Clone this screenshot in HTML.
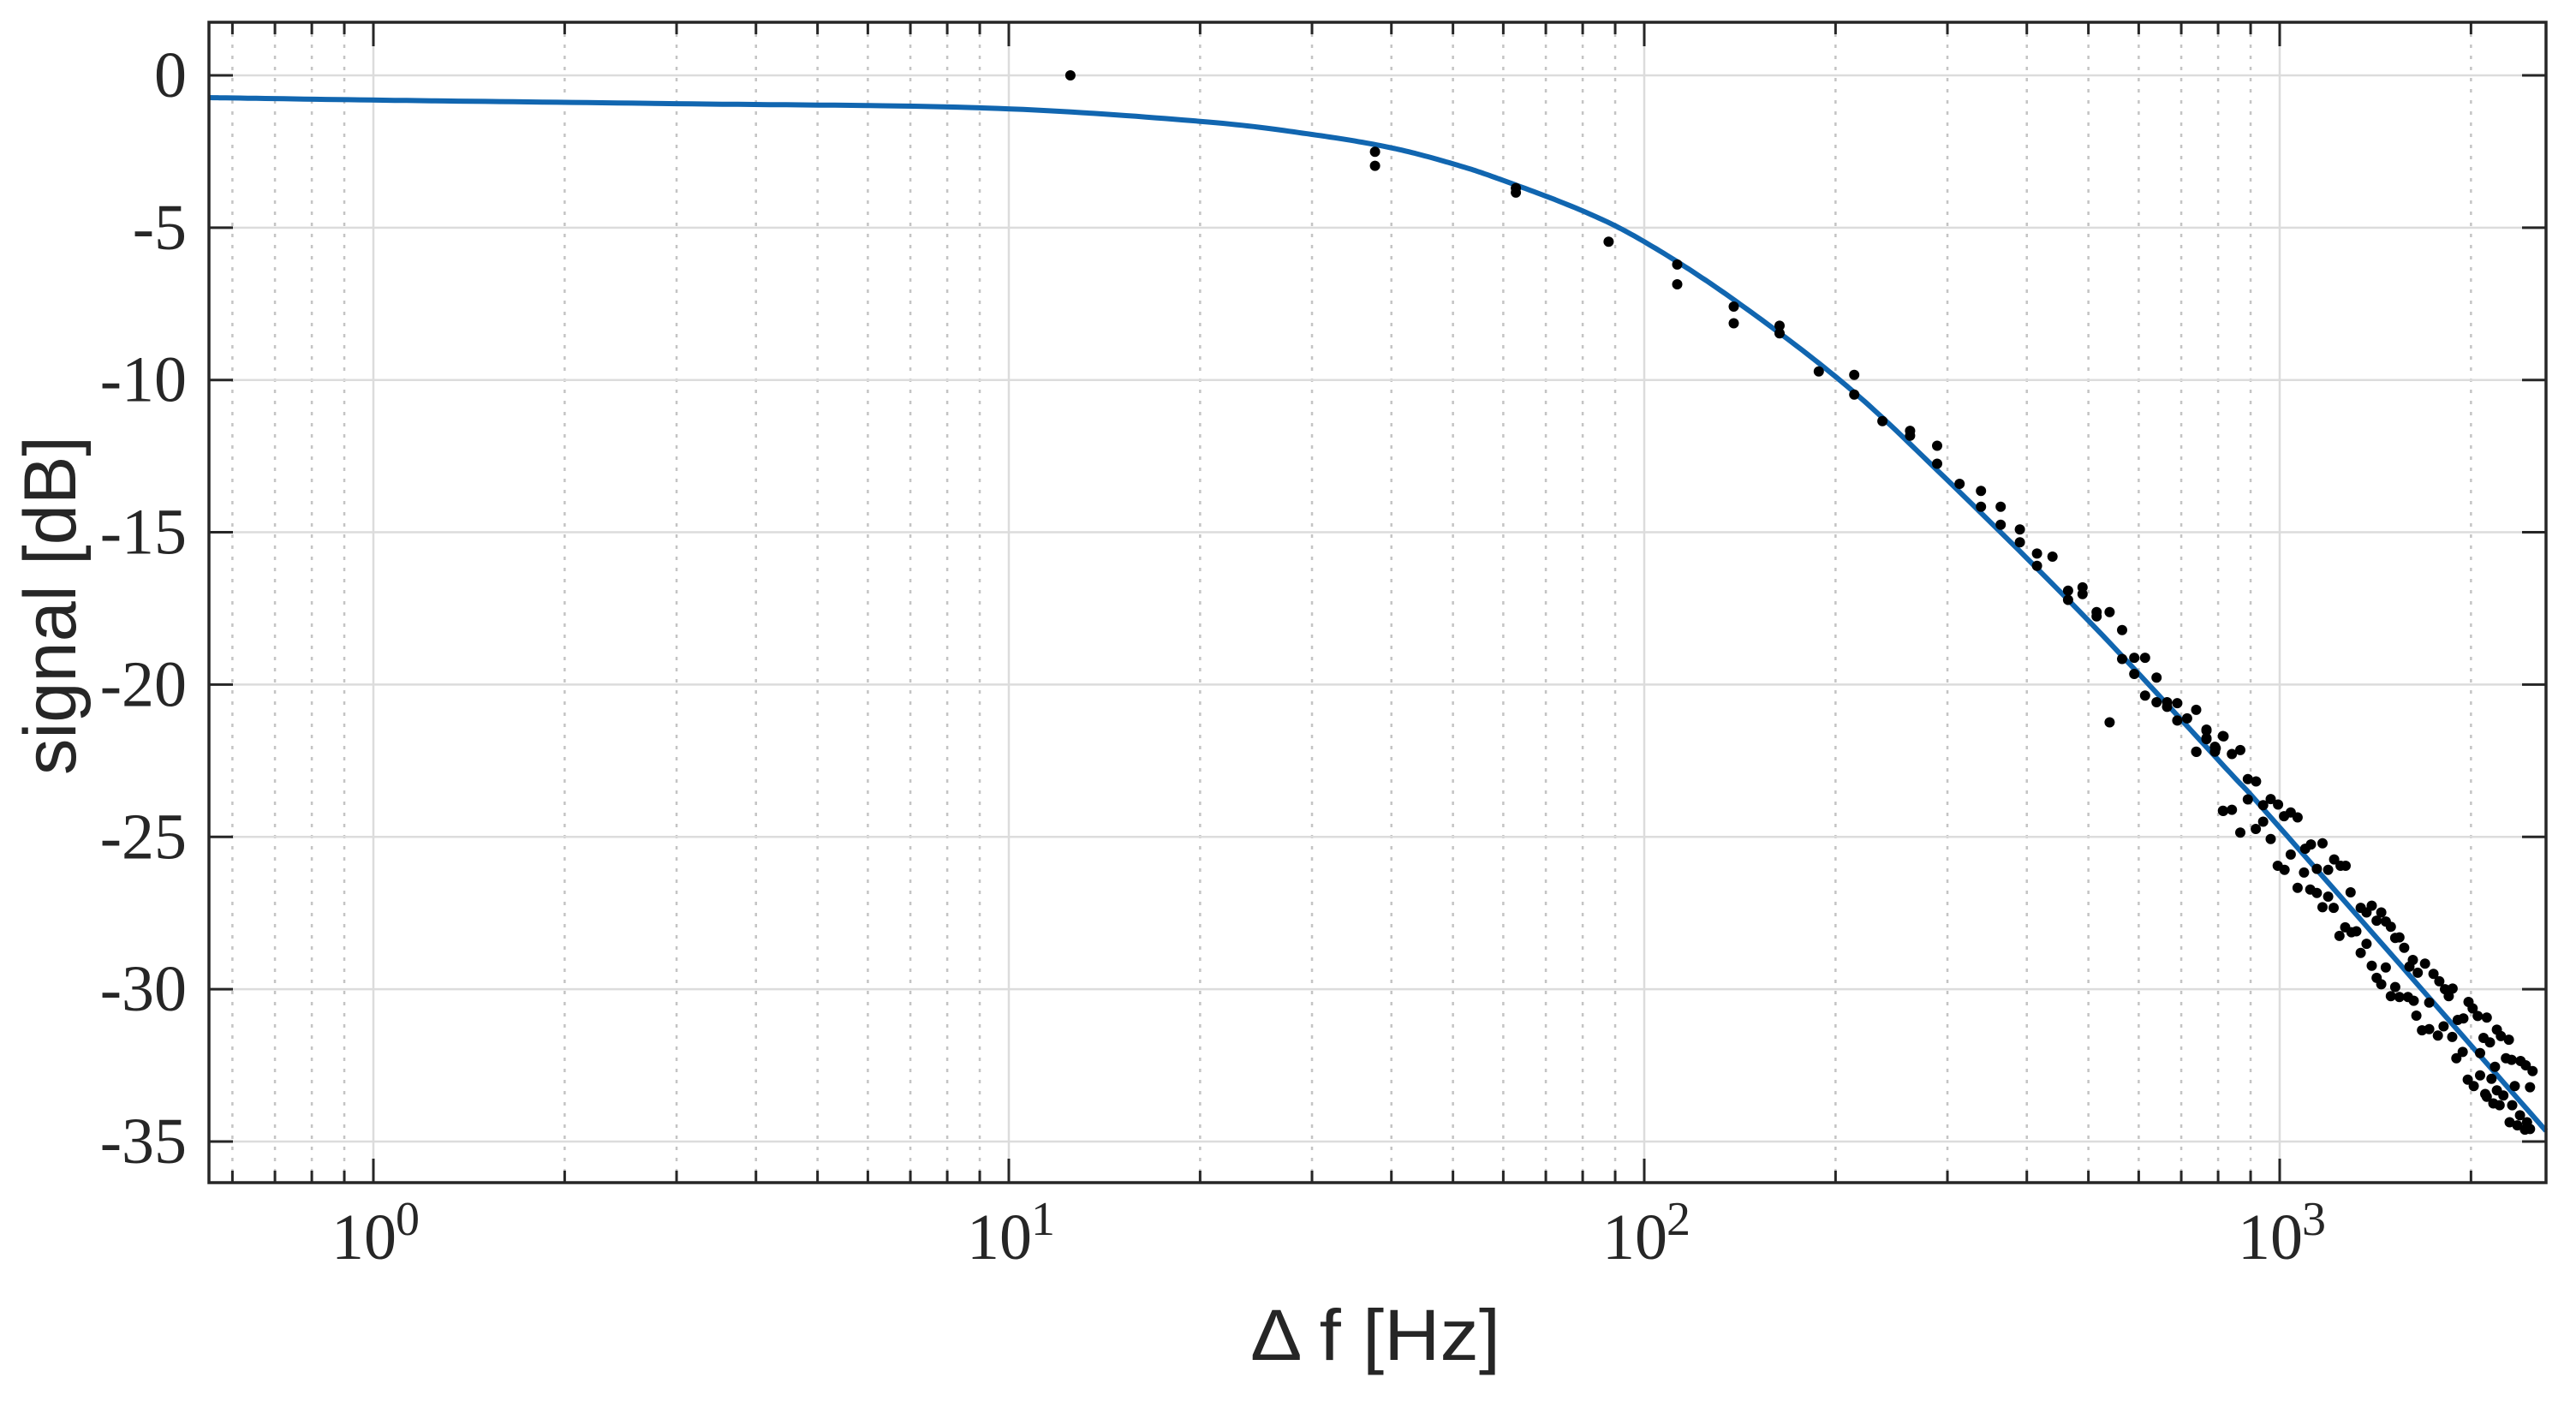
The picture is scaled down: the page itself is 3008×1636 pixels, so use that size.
<!DOCTYPE html>
<html><head><meta charset="utf-8"><style>
html,body{margin:0;padding:0;background:#fff;}
svg{display:block;}
</style></head><body>
<svg id="chart" width="3008" height="1636" viewBox="0 0 3008 1636" xmlns="http://www.w3.org/2000/svg">
<rect x="0" y="0" width="3008" height="1636" fill="#fff"/>
<g id="grid"></g>
<g id="plot"></g>
<g id="axes"></g>
<g id="labels"></g>
<text transform="translate(88,707) rotate(-90)" text-anchor="middle" font-family="Liberation Sans, Arial, sans-serif" font-size="86" fill="#262626" textLength="396" lengthAdjust="spacingAndGlyphs">signal [dB]</text>
<text x="1606" y="1588" text-anchor="middle" font-family="Liberation Sans, Arial, sans-serif" font-size="84" fill="#262626" textLength="292" lengthAdjust="spacingAndGlyphs">Δ f [Hz]</text>
</svg>
<script>
// ---- data ----
const fitFreq = [0.551, 1.08, 3, 9.17, 20, 30, 40, 50.3, 60, 80, 100, 136.5, 204, 290, 500, 824, 1000, 2624];
const fitDb = [-0.73, -0.82, -0.93, -1.07, -1.51, -1.94, -2.38, -2.92, -3.45, -4.45, -5.46, -7.28, -10.04, -12.99, -17.9, -22.76, -24.69, -34.65];
const measFreq = [12.5,37.7,37.7,62.8,62.8,87.9,112.7,112.7,138.3,138.3,163.3,163.3,188.2,214,214,237,262,262,289,289,
313.5,338.8,338.8,363.9,363.9,390,390,415,415,439,464.5,464.5,489.5,489.5,515,515,540,540,565,565,590.5,590.5,614,614,640,640,665,665,690,690,715,739,739,767,767,791,791,814,814,
739.6,767,767,793,816,841,867,891,918,891,
815,841,867,917,942,942,968,994,968,1016,
1041,1067,993,1018,1041,1067,1092,1097,1120,1117,
1144,1144,1168,1192,1192,1168,1216,1218,1247,1270,
1293,1242,1268,1297,1320,1341,1370,1396,1370,1341,
1396,1421,1445,1469,1496,1469,1421,1445,1520,1543,
1570,1520,1496,1543,1592,1625,1620,1600,1649,1693,
1641,1719,1675,1719,1774,1746,1783,1820,1845,1871,
1811,1869,1906,1946,1897,1941,1982,2012,2049,2118,
1977,2020,2067,2067,2093,2142,2106,2154,2182,2118,
2169,2219,2197,2229,2294,2197,2249,2270,2317,2394,
2439,2500,2344,2477,2322,2389,2301,2366,2432,2477,
2450];
const measDb = [0,-2.51,-2.97,-3.70,-3.85,-5.46,-6.21,-6.86,-7.59,-8.14,-8.22,-8.47,-9.72,-9.83,-10.48,-11.35,-11.67,-11.83,-12.16,-12.75,
-13.41,-13.64,-14.16,-14.16,-14.75,-14.91,-15.33,-15.70,-16.10,-15.80,-16.92,-17.22,-16.81,-17.03,-17.62,-17.76,-17.62,-21.24,-18.21,-19.16,-19.12,-19.65,-19.12,-20.36,-19.77,-20.58,-20.58,-20.73,-20.61,-21.18,-21.11,-20.83,-22.20,-21.48,-21.76,-22.04,-22.20,-21.69,-24.14,
-22.21,-21.51,-21.79,-22.09,-21.70,-22.28,-22.15,-23.10,-23.18,-23.77,
-24.15,-24.11,-24.86,-24.74,-24.50,-23.96,-23.76,-23.94,-25.07,-24.32,
-24.20,-24.36,-25.95,-26.08,-25.58,-26.67,-26.17,-25.39,-25.25,-26.73,
-26.84,-26.05,-25.21,-26.08,-26.96,-27.31,-27.33,-25.74,-25.95,-25.95,
-26.82,-28.25,-27.97,-28.13,-28.10,-27.33,-27.48,-27.26,-28.51,-28.81,
-29.23,-27.75,-27.48,-27.78,-27.95,-29.29,-29.63,-29.84,-28.32,-28.30,
-28.64,-29.93,-30.23,-30.26,-30.26,-30.38,-29.04,-29.26,-29.46,-29.16,
-30.87,-30.44,-31.35,-31.31,-31.52,-29.50,-29.74,-30.00,-30.23,-29.98,
-31.22,-31.57,-31.01,-30.96,-32.27,-32.06,-30.42,-30.63,-30.88,-30.93,
-32.97,-33.18,-32.83,-32.10,-31.60,-31.75,-33.44,-32.94,-32.55,-33.53,
-33.75,-33.81,-31.33,-31.54,-31.66,-33.32,-33.49,-32.27,-32.32,-32.36,
-32.50,-32.69,-33.18,-33.22,-33.81,-34.14,-34.37,-34.47,-34.61,-34.59,
-34.37];
const yTicks = [0,-5,-10,-15,-20,-25,-30,-35];
const yTickLabels = ["0","-5","-10","-15","-20","-25","-30","-35"];
const xDecades = [0,1,2,3];
const xTickLabels = ["0","1","2","3"];

// ---- axes ----
const L=244,R=2973,T=26,B=1381;
const X0=436, DEC=742;
const Y0=88, PERDB=35.57;
function xs(f){return X0+Math.log10(f)*DEC;}
function ys(v){return Y0-v*PERDB;}
const NS="http://www.w3.org/2000/svg";
function mk(tag,attrs,parent){const e=document.createElementNS(NS,tag);for(const k in attrs)e.setAttribute(k,attrs[k]);parent.appendChild(e);return e;}
const grid=document.getElementById('grid'),plot=document.getElementById('plot'),axes=document.getElementById('axes'),labels=document.getElementById('labels');

const minors=[];
for(let d=-1;d<=3;d++)for(let m=2;m<=9;m++){const f=m*Math.pow(10,d);const p=xs(f);if(p>L+1&&p<R-1)minors.push(p);}
minors.forEach(p=>{
  const g=mk('line',{x1:p,x2:p,y1:T,y2:B,stroke:'#c4c4c4','stroke-width':2.5,'stroke-dasharray':'4 9'},grid);
  
  
});
xDecades.forEach(d=>{const p=xs(Math.pow(10,d));
  const g=mk('line',{x1:p,x2:p,y1:T,y2:B,stroke:'#dcdcdc','stroke-width':2.5},grid);
  
  
});
yTicks.forEach(v=>{const p=ys(v);
  const g=mk('line',{x1:L,x2:R,y1:p,y2:p,stroke:'#dcdcdc','stroke-width':2.5},grid);
  
  
});

// fit line (smooth Catmull-Rom through the data points in screen space)
const pts=fitFreq.map((f,i)=>[xs(f),ys(fitDb[i])]);
let d='M'+pts[0][0].toFixed(1)+' '+pts[0][1].toFixed(1);
for(let i=0;i<pts.length-1;i++){
  const p0=pts[Math.max(0,i-1)],p1=pts[i],p2=pts[i+1],p3=pts[Math.min(pts.length-1,i+2)];
  for(let s=1;s<=20;s++){const t=s/20,t2=t*t,t3=t2*t;
    const x=0.5*((2*p1[0])+(-p0[0]+p2[0])*t+(2*p0[0]-5*p1[0]+4*p2[0]-p3[0])*t2+(-p0[0]+3*p1[0]-3*p2[0]+p3[0])*t3);
    const y=0.5*((2*p1[1])+(-p0[1]+p2[1])*t+(2*p0[1]-5*p1[1]+4*p2[1]-p3[1])*t2+(-p0[1]+3*p1[1]-3*p2[1]+p3[1])*t3);
    d+='L'+x.toFixed(1)+' '+y.toFixed(1);}
}
const line=mk('path',{d:d,fill:'none',stroke:'#1166b0','stroke-width':6,'stroke-linejoin':'round'},plot);



const n=Math.min(measFreq.length,measDb.length);
for(let i=0;i<n;i++){
  const c=mk('circle',{cx:xs(measFreq[i]).toFixed(1),cy:ys(measDb[i]).toFixed(1),r:6,fill:'#000'},plot);
  
  
}

const box=mk('rect',{x:L,y:T,width:R-L,height:B-T,fill:'none',stroke:'#262626','stroke-width':3.5},axes);


minors.forEach(p=>{
  mk('line',{x1:p,x2:p,y1:B,y2:B-14,stroke:'#262626','stroke-width':3},axes);
  mk('line',{x1:p,x2:p,y1:T,y2:T+14,stroke:'#262626','stroke-width':3},axes);
});
xDecades.forEach(dd=>{const p=xs(Math.pow(10,dd));
  mk('line',{x1:p,x2:p,y1:B,y2:B-28,stroke:'#262626','stroke-width':3},axes);
  mk('line',{x1:p,x2:p,y1:T,y2:T+28,stroke:'#262626','stroke-width':3},axes);
});
yTicks.forEach(v=>{const p=ys(v);
  mk('line',{x1:L,x2:L+28,y1:p,y2:p,stroke:'#262626','stroke-width':3},axes);
  mk('line',{x1:R,x2:R-28,y1:p,y2:p,stroke:'#262626','stroke-width':3},axes);
});

yTicks.forEach((v,i)=>{
  const t=mk('text',{x:218,y:ys(v)+25,'text-anchor':'end','font-family':'Liberation Serif, serif','font-size':76,fill:'#262626'},labels);
  t.textContent=yTickLabels[i];
  
  
});
xDecades.forEach((dd,i)=>{
  const p=xs(Math.pow(10,dd));
  const t=mk('text',{x:p-49,y:1470,'font-family':'Liberation Serif, serif','font-size':76,fill:'#262626'},labels);
  t.textContent='10';
  
  
  const s=mk('text',{x:p+26,y:1442,'font-family':'Liberation Serif, serif','font-size':56,fill:'#262626'},labels);
  s.textContent=xTickLabels[i];
  
  
});
</script>
</body></html>
